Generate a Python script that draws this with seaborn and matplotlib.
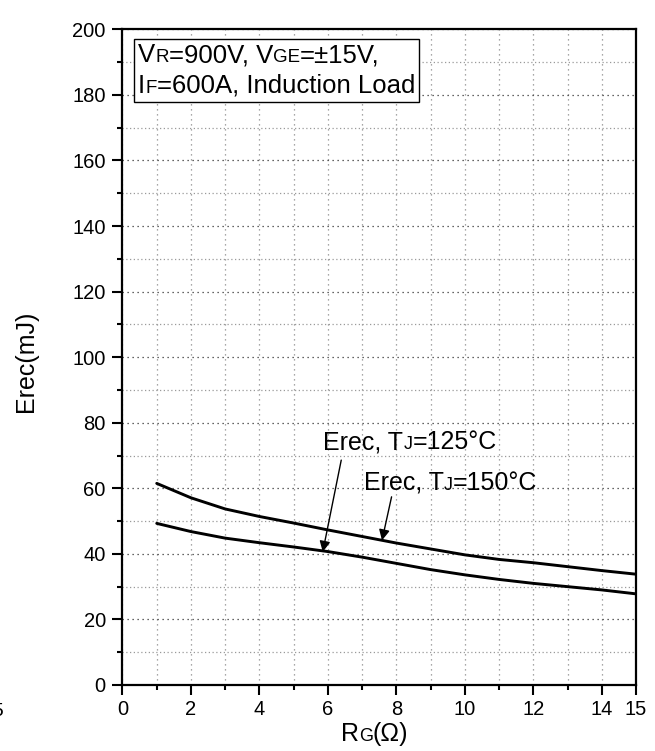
import numpy as np
import pandas as pd
import matplotlib
matplotlib.use("Agg")
import matplotlib.pyplot as plt
import seaborn as sns
from matplotlib.ticker import MultipleLocator, FixedLocator
from matplotlib.offsetbox import TextArea, HPacker, VPacker, AnchoredOffsetbox, AnnotationBbox

# ---------------- data ----------------
rg = [1, 2, 3, 4, 5, 6, 7, 8, 9, 10, 11, 12, 13, 14, 15]
erec_150 = [61.5, 57.1, 53.7, 51.4, 49.4, 47.3, 45.3, 43.3, 41.5, 39.7, 38.3, 37.3, 36.1, 34.9, 33.8]
erec_125 = [49.3, 46.8, 44.8, 43.4, 42.1, 40.7, 39.0, 37.1, 35.2, 33.6, 32.2, 31.0, 30.0, 29.0, 27.8]
x_major = [0, 2, 4, 6, 8, 10, 12, 14, 15]
x_minor = [1, 3, 5, 7, 9, 11, 13]
y_major = [0, 20, 40, 60, 80, 100, 120, 140, 160, 180, 200]

df = pd.DataFrame({"rg": rg * 2,
                   "erec": erec_150 + erec_125,
                   "tj": ["150"] * len(rg) + ["125"] * len(rg)})

# ---------------- style ----------------
sns.set_theme(style="white")
FONT = ["Liberation Sans", "DejaVu Sans"]
plt.rcParams["font.family"] = FONT

fig = plt.figure(figsize=(6.55, 7.51), dpi=100)
ax = fig.add_axes([0.187, 0.0879, 0.784, 0.873])

sns.lineplot(data=df, x="rg", y="erec", units="tj", estimator=None,
             color="black", lw=2.1, ax=ax, legend=False)

ax.set_xlim(0, 15)
ax.set_ylim(0, 200)
ax.xaxis.set_major_locator(FixedLocator(x_major))
ax.xaxis.set_minor_locator(FixedLocator(x_minor))
ax.yaxis.set_major_locator(FixedLocator(y_major))
ax.yaxis.set_minor_locator(MultipleLocator(10))
ax.set_xticklabels([str(v) for v in x_major])

for s in ax.spines.values():
    s.set_visible(True)
    s.set_color("black")
    s.set_linewidth(1.6)

ax.tick_params(axis="both", which="major", direction="out", length=7, width=1.5,
               labelsize=14.5, color="black", labelcolor="black", pad=4,
               bottom=True, left=True, top=False, right=False)
ax.tick_params(axis="both", which="minor", direction="out", length=3.6, width=1.5,
               color="black", bottom=True, left=True, top=False, right=False)
ax.tick_params(axis="y", which="major", pad=5)

# grid
ax.grid(False)
ax.xaxis.grid(True, which="both", ls=(0, (1, 3)), color="#8a8a8a", lw=0.9)
ax.yaxis.grid(True, which="major", ls=(0, (1, 3)), color="#333333", lw=0.9)
ax.yaxis.grid(True, which="minor", ls=(0, (1, 2)), color="#9a9a9a", lw=0.9)
ax.set_axisbelow(True)

ax.set_xlabel("")
ax.set_ylabel("")


def rich(parts, big=18, small=13):
    boxes = [TextArea(t, textprops=dict(fontsize=(small if sm else big),
                                        family=FONT, color="black"))
             for t, sm in parts]
    return HPacker(children=boxes, align="baseline", pad=0, sep=0)


# condition box
line1 = rich([("V", 0), ("R", 1), ("=900V, V", 0), ("GE", 1), ("=\u00b115V,", 0)], big=18.5, small=13.5)
line2 = rich([("I", 0), ("F", 1), ("=600A, Induction Load", 0)], big=18.5, small=13.5)
vp = VPacker(children=[line1, line2], align="left", pad=0, sep=5)
box = AnchoredOffsetbox(loc="upper left", child=vp, pad=0.25, borderpad=0,
                        frameon=True, bbox_to_anchor=(0.023, 0.985),
                        bbox_transform=ax.transAxes)
box.patch.set_edgecolor("black")
box.patch.set_linewidth(1.0)
box.patch.set_facecolor("white")
box.patch.set_boxstyle("square", pad=0)
ax.add_artist(box)

# curve labels
for txt, pos in [("125", (8.40, 74.1)), ("150", (9.58, 61.7))]:
    lab = rich([("Erec, T", 0), ("J", 1), ("=" + txt + "\u00b0C", 0)])
    ab = AnnotationBbox(lab, pos, xycoords="data", frameon=False,
                        box_alignment=(0.5, 0.5), pad=0)
    ax.add_artist(ab)

# arrows
for tail, tip in [((6.39, 68.6), (5.85, 40.6)), ((7.86, 57.4), (7.58, 44.1))]:
    ax.annotate("", xy=tip, xytext=tail, xycoords="data",
                arrowprops=dict(arrowstyle="-|>", color="black", lw=1.0,
                                mutation_scale=16, shrinkA=0, shrinkB=0))

# axis labels
xl = rich([("R", 0), ("G", 1), ("(\u03a9)", 0)])
xab = AnnotationBbox(xl, (0.491, -0.0755), xycoords="axes fraction",
                     frameon=False, box_alignment=(0.5, 0.5), pad=0,
                     annotation_clip=False)
ax.add_artist(xab)
ax.text(-0.187, 0.494, "Erec(mJ)", rotation=90, transform=ax.transAxes,
        ha="center", va="center", fontsize=18, color="black")

# cut-off label at the left edge, as in the reference
fig.text(4 / 655, 1 - 712 / 751, "15", ha="right", va="center", fontsize=14, color="black")

fig.savefig("out.png", dpi=100)
